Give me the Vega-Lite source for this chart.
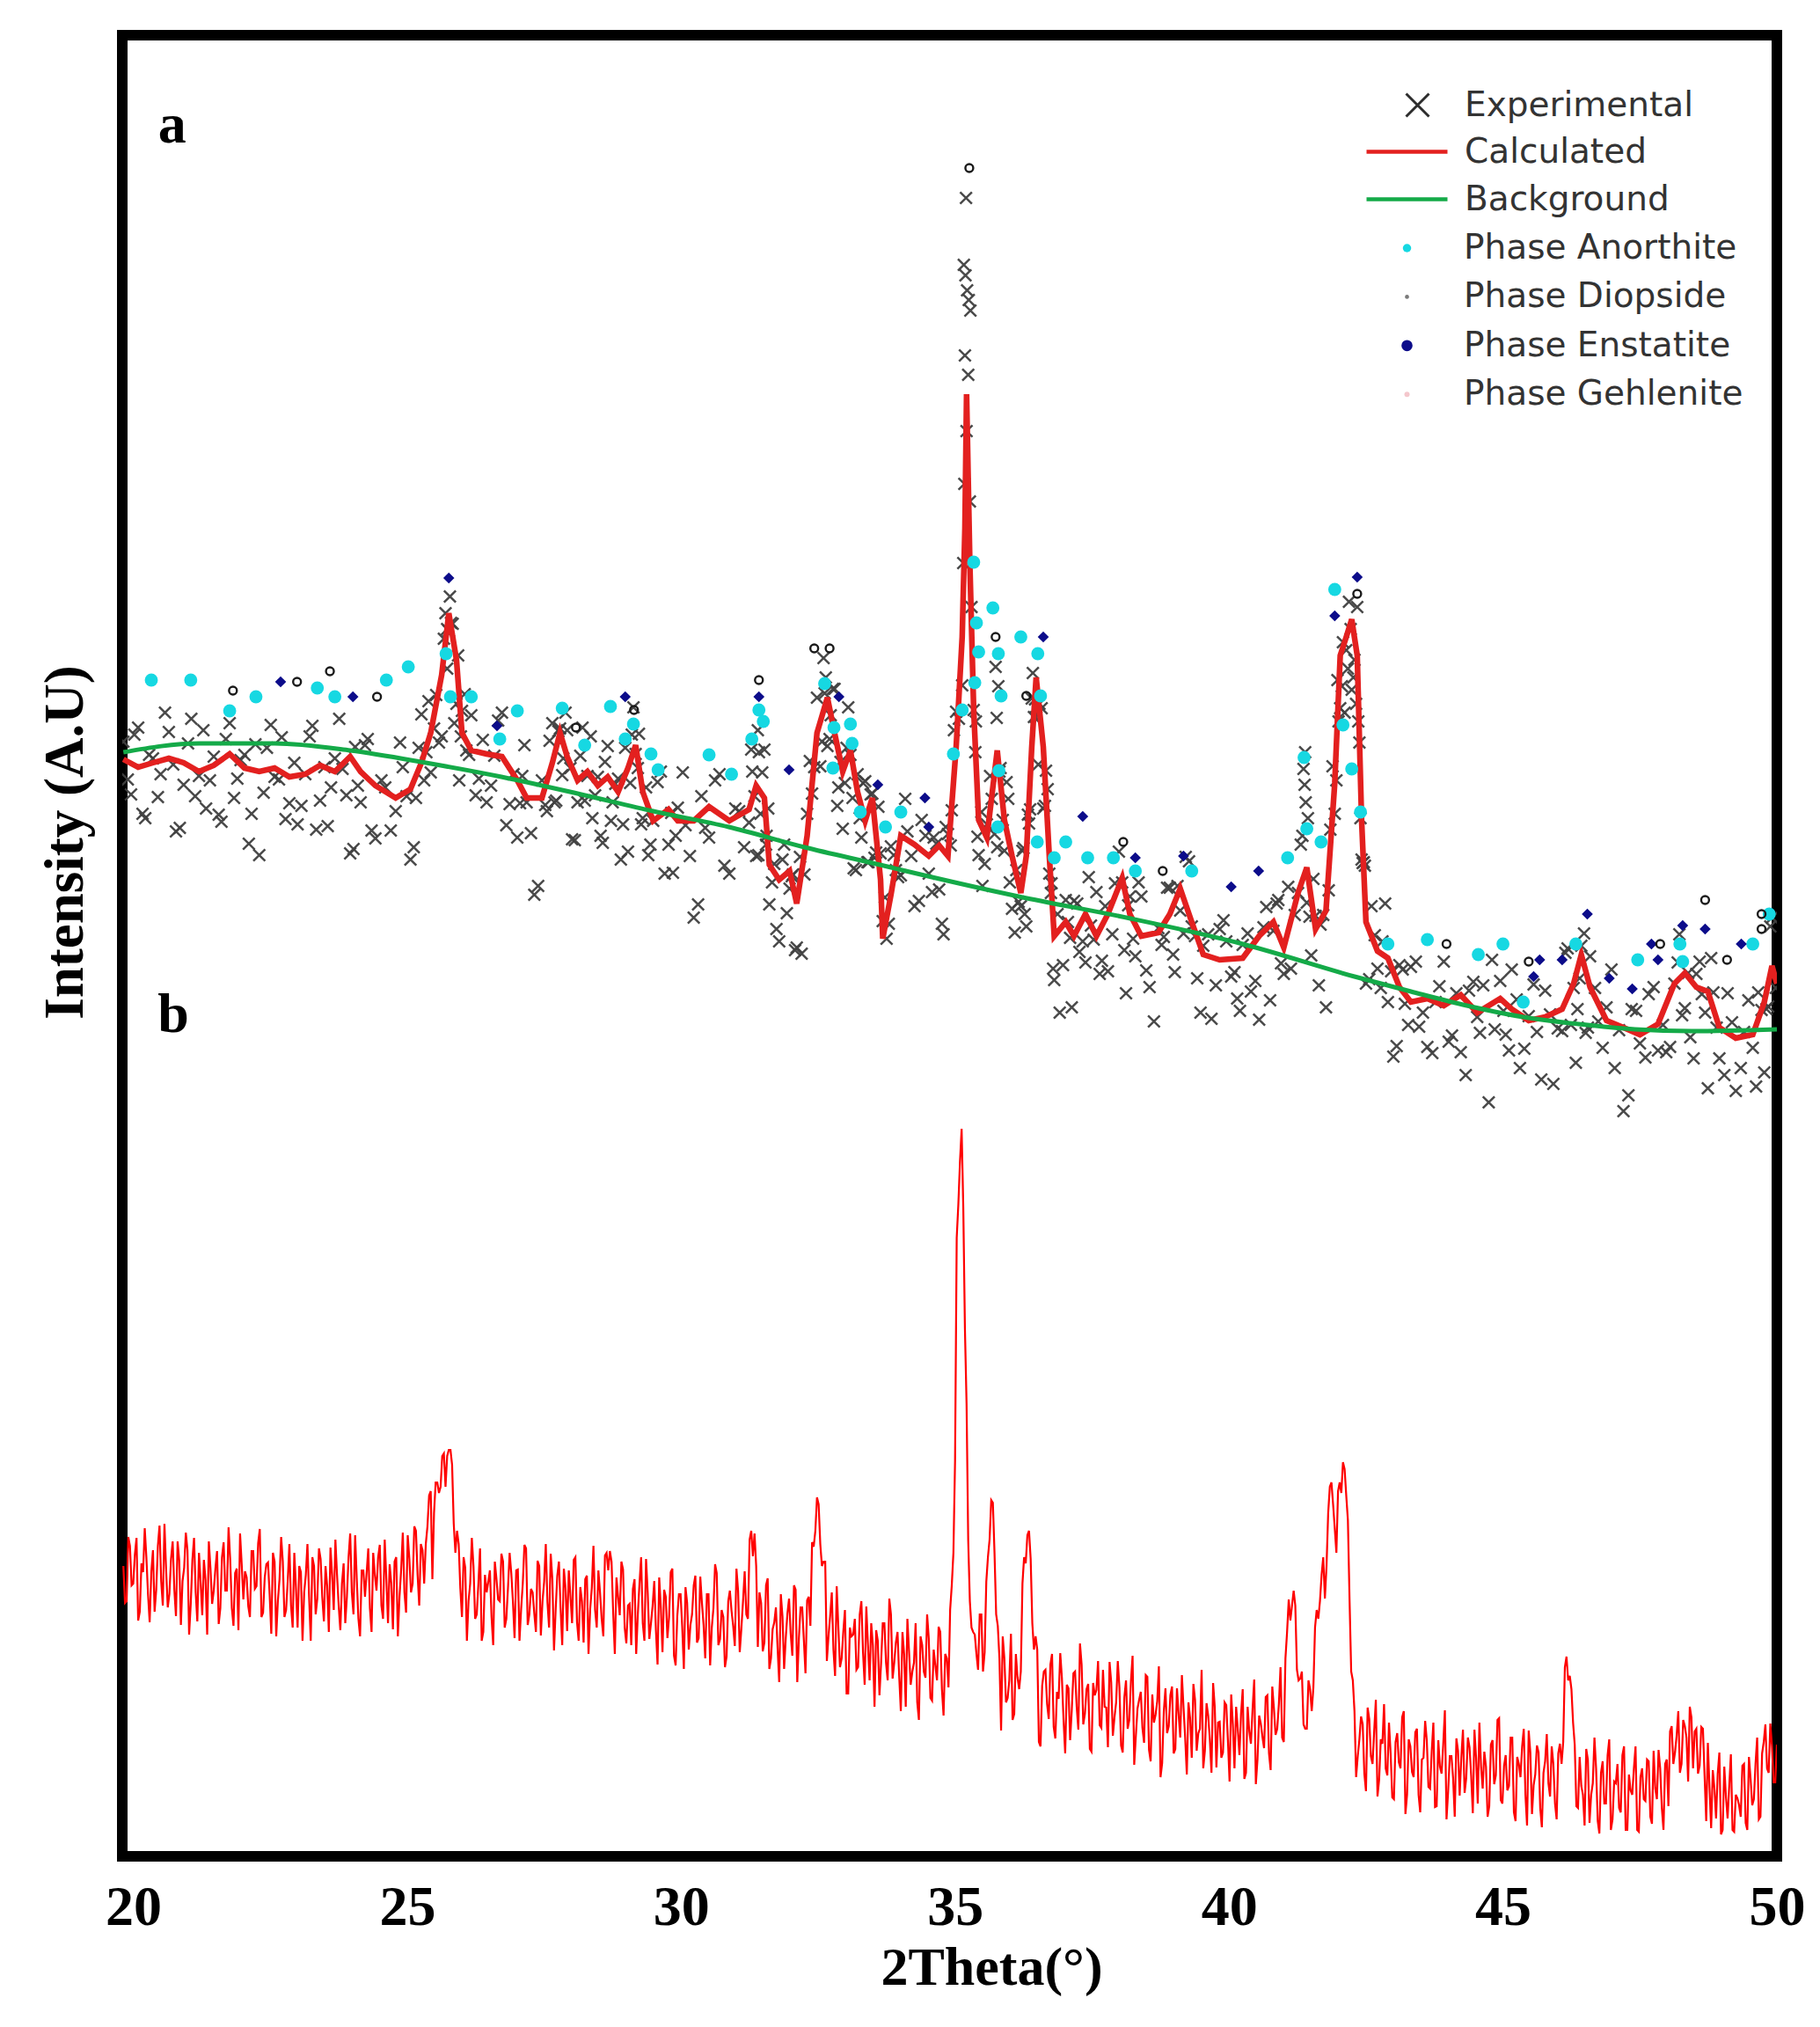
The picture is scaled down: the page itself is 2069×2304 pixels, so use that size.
{
  "$schema": "https://vega.github.io/schema/vega-lite/v6.json",
  "width": 1881,
  "height": 2070,
  "autosize": {"type": "none"},
  "padding": {"left": 139, "top": 40, "right": 49, "bottom": 194},
  "background": "white",
  "config": {
    "view": {"stroke": "#000000", "strokeWidth": 12},
    "legend": {
      "padding": 0,
      "labelFont": "DejaVu Sans",
      "labelFontSize": 39,
      "labelColor": "#333333",
      "labelLimit": 600
    }
  },
  "datasets": {
    "experimental": [
      {"angle":19.82,"counts":1267},{"angle":19.96,"counts":1207},{"angle":20.09,"counts":1283},{"angle":20.22,"counts":1180},{"angle":20.36,"counts":1248},{"angle":20.5,"counts":1230},{"angle":20.65,"counts":1278},{"angle":20.78,"counts":1165},{"angle":20.92,"counts":1218},{"angle":21.06,"counts":1293},{"angle":21.2,"counts":1228},{"angle":21.33,"counts":1191},{"angle":21.47,"counts":1250},{"angle":21.61,"counts":1176},{"angle":21.76,"counts":1288},{"angle":21.9,"counts":1225},{"angle":22.03,"counts":1252},{"angle":22.16,"counts":1185},{"angle":22.3,"counts":1138},{"angle":22.44,"counts":1260},{"angle":22.58,"counts":1227},{"angle":22.71,"counts":1272},{"angle":22.85,"counts":1197},{"angle":23.0,"counts":1173},{"angle":23.14,"counts":1230},{"angle":23.27,"counts":1285},{"angle":23.41,"counts":1200},{"angle":23.55,"counts":1171},{"angle":23.68,"counts":1248},{"angle":23.82,"counts":1236},{"angle":23.96,"counts":1140},{"angle":24.05,"counts":1261},{"angle":24.15,"counts":1198},{"angle":24.28,"counts":1270},{"angle":24.42,"counts":1157},{"angle":24.6,"counts":1215},{"angle":24.79,"counts":1188},{"angle":24.92,"counts":1238},{"angle":25.06,"counts":1133},{"angle":25.16,"counts":1203},{"angle":25.26,"counts":1298},{"angle":25.35,"counts":1255},{"angle":25.43,"counts":1232},{"angle":25.53,"counts":1320},{"angle":25.63,"counts":1273},{"angle":25.7,"counts":1413},{"angle":25.73,"counts":1395},{"angle":25.76,"counts":1393},{"angle":25.78,"counts":1432},{"angle":25.83,"counts":1401},{"angle":25.9,"counts":1310},{"angle":25.95,"counts":1223},{"angle":26.0,"counts":1302},{"angle":26.08,"counts":1257},{"angle":26.17,"counts":1297},{"angle":26.31,"counts":1225},{"angle":26.45,"counts":1198},{"angle":26.59,"counts":1251},{"angle":26.73,"counts":1300},{"angle":26.87,"counts":1196},{"angle":27.01,"counts":1158},{"angle":27.1,"counts":1228},{"angle":27.18,"counts":1198},{"angle":27.32,"counts":1093},{"angle":27.46,"counts":1223},{"angle":27.55,"counts":1188},{"angle":27.65,"counts":1288},{"angle":27.72,"counts":1200},{"angle":27.79,"counts":1282},{"angle":27.85,"counts":1248},{"angle":27.92,"counts":1280},{"angle":28.01,"counts":1156},{"angle":28.11,"counts":1198},{"angle":28.2,"counts":1283},{"angle":28.29,"counts":1228},{"angle":28.38,"counts":1180},{"angle":28.48,"counts":1227},{"angle":28.57,"counts":1152},{"angle":28.66,"counts":1262},{"angle":28.75,"counts":1198},{"angle":28.85,"counts":1225},{"angle":28.94,"counts":1173},{"angle":29.03,"counts":1142},{"angle":29.1,"counts":1275},{"angle":29.17,"counts":1253},{"angle":29.23,"counts":1276},{"angle":29.3,"counts":1180},{"angle":29.4,"counts":1138},{"angle":29.49,"counts":1177},{"angle":29.63,"counts":1233},{"angle":29.77,"counts":1150},{"angle":29.85,"counts":1118},{"angle":29.94,"counts":1192},{"angle":30.08,"counts":1172},{"angle":30.23,"counts":1067},{"angle":30.37,"counts":1205},{"angle":30.51,"counts":1158},{"angle":30.7,"counts":1230},{"angle":30.88,"counts":1117},{"angle":31.06,"counts":1188},{"angle":31.24,"counts":1175},{"angle":31.3,"counts":1233},{"angle":31.37,"counts":1137},{"angle":31.4,"counts":1280},{"angle":31.42,"counts":1255},{"angle":31.45,"counts":1185},{"angle":31.52,"counts":1258},{"angle":31.56,"counts":1160},{"angle":31.61,"counts":1082},{"angle":31.7,"counts":1128},{"angle":31.79,"counts":1040},{"angle":31.88,"counts":1150},{"angle":31.98,"counts":1100},{"angle":32.04,"counts":1116},{"angle":32.11,"counts":1033},{"angle":32.2,"counts":1026},{"angle":32.3,"counts":1185},{"angle":32.39,"counts":1208},{"angle":32.48,"counts":1317},{"angle":32.57,"counts":1267},{"angle":32.6,"counts":1362},{"angle":32.64,"counts":1340},{"angle":32.67,"counts":1262},{"angle":32.73,"counts":1297},{"angle":32.8,"counts":1327},{"angle":32.87,"counts":1215},{"angle":32.95,"counts":1168},{"angle":33.02,"counts":1260},{"angle":33.09,"counts":1252},{"angle":33.15,"counts":1123},{"angle":33.22,"counts":1230},{"angle":33.29,"counts":1158},{"angle":33.36,"counts":1222},{"angle":33.42,"counts":1130},{"angle":33.49,"counts":1208},{"angle":33.56,"counts":1141},{"angle":33.64,"counts":1140},{"angle":33.68,"counts":1063},{"angle":33.75,"counts":1043},{"angle":33.83,"counts":1148},{"angle":33.92,"counts":1121},{"angle":34.01,"counts":1115},{"angle":34.13,"counts":1165},{"angle":34.26,"counts":1080},{"angle":34.39,"counts":1178},{"angle":34.52,"counts":1117},{"angle":34.61,"counts":1158},{"angle":34.71,"counts":1099},{"angle":34.79,"counts":1048},{"angle":34.87,"counts":1162},{"angle":34.94,"counts":1189},{"angle":35.02,"counts":1301},{"angle":35.07,"counts":1293},{"angle":35.13,"counts":1331},{"angle":35.15,"counts":1470},{"angle":35.17,"counts":1560},{"angle":35.18,"counts":1706},{"angle":35.16,"counts":1809},{"angle":35.19,"counts":1797},{"angle":35.2,"counts":1885},{"angle":35.21,"counts":1620},{"angle":35.22,"counts":1780},{"angle":35.24,"counts":1684},{"angle":35.25,"counts":1769},{"angle":35.27,"counts":1540},{"angle":35.28,"counts":1757},{"angle":35.3,"counts":1420},{"angle":35.34,"counts":1303},{"angle":35.38,"counts":1290},{"angle":35.43,"counts":1138},{"angle":35.5,"counts":1103},{"angle":35.58,"counts":1173},{"angle":35.67,"counts":1202},{"angle":35.74,"counts":1352},{"angle":35.76,"counts":1294},{"angle":35.77,"counts":1147},{"angle":35.79,"counts":1330},{"angle":35.83,"counts":1237},{"angle":35.9,"counts":1143},{"angle":35.97,"counts":1202},{"angle":36.04,"counts":1077},{"angle":36.12,"counts":1121},{"angle":36.2,"counts":1080},{"angle":36.25,"counts":1146},{"angle":36.3,"counts":1057},{"angle":36.35,"counts":1174},{"angle":36.4,"counts":1316},{"angle":36.44,"counts":1295},{"angle":36.48,"counts":1295},{"angle":36.54,"counts":1310},{"angle":36.61,"counts":1191},{"angle":36.66,"counts":1234},{"angle":36.72,"counts":1117},{"angle":36.76,"counts":1106},{"angle":36.81,"counts":996},{"angle":36.91,"counts":959},{"angle":37.02,"counts":1087},{"angle":37.1,"counts":1044},{"angle":37.17,"counts":1086},{"angle":37.27,"counts":1028},{"angle":37.38,"counts":1016},{"angle":37.48,"counts":1058},{"angle":37.58,"counts":1096},{"angle":37.68,"counts":1018},{"angle":37.79,"counts":1006},{"angle":37.92,"counts":1106},{"angle":38.05,"counts":1107},{"angle":38.12,"counts":981},{"angle":38.19,"counts":1091},{"angle":38.29,"counts":1023},{"angle":38.4,"counts":1091},{"angle":38.55,"counts":988},{"angle":38.71,"counts":1055},{"angle":38.81,"counts":1045},{"angle":38.92,"counts":1101},{"angle":39.01,"counts":1005},{"angle":39.11,"counts":1075},{"angle":39.21,"counts":1136},{"angle":39.32,"counts":1057},{"angle":39.42,"counts":998},{"angle":39.53,"counts":1035},{"angle":39.68,"counts":952},{"angle":39.83,"counts":1054},{"angle":39.95,"counts":1040},{"angle":40.04,"counts":1000},{"angle":40.15,"counts":975},{"angle":40.25,"counts":1036},{"angle":40.4,"counts":983},{"angle":40.55,"counts":951},{"angle":40.68,"counts":1079},{"angle":40.81,"counts":1052},{"angle":40.9,"counts":1087},{"angle":41.0,"counts":1003},{"angle":41.13,"counts":1009},{"angle":41.26,"counts":1095},{"angle":41.34,"counts":1160},{"angle":41.36,"counts":1236},{"angle":41.38,"counts":1218},{"angle":41.4,"counts":1198},{"angle":41.42,"counts":1084},{"angle":41.44,"counts":1180},{"angle":41.5,"counts":1024},{"angle":41.58,"counts":1069},{"angle":41.67,"counts":1059},{"angle":41.77,"counts":965},{"angle":41.85,"counts":1167},{"angle":41.93,"counts":1185},{"angle":41.98,"counts":1337},{"angle":42.03,"counts":1305},{"angle":42.08,"counts":1380},{"angle":42.14,"counts":1371},{"angle":42.19,"counts":1426},{"angle":42.24,"counts":1326},{"angle":42.29,"counts":1360},{"angle":42.34,"counts":1420},{"angle":42.38,"counts":1266},{"angle":42.42,"counts":1133},{"angle":42.46,"counts":1130},{"angle":42.5,"counts":992},{"angle":42.6,"counts":1080},{"angle":42.71,"counts":1009},{"angle":42.8,"counts":1040},{"angle":42.9,"counts":971},{"angle":43.0,"counts":909},{"angle":43.11,"counts":1013},{"angle":43.21,"counts":969},{"angle":43.32,"counts":1011},{"angle":43.47,"counts":943},{"angle":43.62,"counts":920},{"angle":43.77,"counts":971},{"angle":43.92,"counts":1017},{"angle":44.07,"counts":933},{"angle":44.23,"counts":914},{"angle":44.38,"counts":984},{"angle":44.53,"counts":954},{"angle":44.64,"counts":990},{"angle":44.74,"counts":857},{"angle":44.85,"counts":940},{"angle":44.95,"counts":995},{"angle":45.05,"counts":934},{"angle":45.16,"counts":1008},{"angle":45.31,"counts":896},{"angle":45.47,"counts":955},{"angle":45.62,"counts":937},{"angle":45.77,"counts":984},{"angle":45.92,"counts":878},{"angle":46.08,"counts":938},{"angle":46.18,"counts":1032},{"angle":46.29,"counts":987},{"angle":46.36,"counts":963},{"angle":46.43,"counts":1035},{"angle":46.51,"counts":936},{"angle":46.59,"counts":1023},{"angle":46.74,"counts":949},{"angle":46.89,"counts":965},{"angle":47.04,"counts":896},{"angle":47.2,"counts":847},{"angle":47.35,"counts":963},{"angle":47.5,"counts":924},{"angle":47.66,"counts":980},{"angle":47.83,"counts":916},{"angle":47.98,"counts":914},{"angle":48.13,"counts":992},{"angle":48.22,"counts":1048},{"angle":48.32,"counts":964},{"angle":48.42,"counts":931},{"angle":48.53,"counts":1003},{"angle":48.63,"counts":980},{"angle":48.74,"counts":873},{"angle":48.84,"counts":982},{"angle":48.95,"counts":907},{"angle":49.1,"counts":981},{"angle":49.25,"counts":870},{"angle":49.4,"counts":937},{"angle":49.56,"counts":919},{"angle":49.66,"counts":982},{"angle":49.77,"counts":891},{"angle":49.84,"counts":966},{"angle":49.91,"counts":1067},{"angle":49.98,"counts":987},
      {"angle":19.9,"counts":1224},{"angle":20.02,"counts":1275},{"angle":20.17,"counts":1185},{"angle":20.29,"counts":1252},{"angle":20.45,"counts":1204},{"angle":20.58,"counts":1300},{"angle":20.73,"counts":1241},{"angle":20.85,"counts":1169},{"angle":21.0,"counts":1265},{"angle":21.13,"counts":1205},{"angle":21.28,"counts":1280},{"angle":21.4,"counts":1223},{"angle":21.56,"counts":1184},{"angle":21.69,"counts":1270},{"angle":21.84,"counts":1203},{"angle":21.96,"counts":1246},{"angle":22.11,"counts":1151},{"angle":22.23,"counts":1264},{"angle":22.38,"counts":1209},{"angle":22.51,"counts":1286},{"angle":22.66,"counts":1224},{"angle":22.78,"counts":1179},{"angle":22.94,"counts":1243},{"angle":23.07,"counts":1194},{"angle":23.22,"counts":1273},{"angle":23.34,"counts":1167},{"angle":23.49,"counts":1238},{"angle":23.61,"counts":1215},{"angle":23.76,"counts":1293},{"angle":23.89,"counts":1206},{"angle":24.02,"counts":1145},{"angle":24.1,"counts":1217},{"angle":24.23,"counts":1263},{"angle":24.35,"counts":1166},{"angle":24.53,"counts":1223},{"angle":24.7,"counts":1166},{"angle":24.87,"counts":1266},{"angle":24.99,"counts":1205},{"angle":25.12,"counts":1147},{"angle":25.21,"counts":1260},{"angle":25.31,"counts":1223},{"angle":25.39,"counts":1313},{"angle":25.49,"counts":1282},{"angle":25.58,"counts":1266},{"angle":25.67,"counts":1384},{"angle":25.73,"counts":1350},{"angle":25.8,"counts":1402},{"angle":25.86,"counts":1288},{"angle":25.93,"counts":1365},{"angle":25.98,"counts":1273},{"angle":26.05,"counts":1321},{"angle":26.13,"counts":1252},{"angle":26.25,"counts":1206},{"angle":26.38,"counts":1269},{"angle":26.53,"counts":1217},{"angle":26.66,"counts":1291},{"angle":26.81,"counts":1172},{"angle":26.94,"counts":1230},{"angle":27.06,"counts":1197},{"angle":27.14,"counts":1263},{"angle":27.26,"counts":1163},{"angle":27.39,"counts":1103},{"angle":27.52,"counts":1195},{"angle":27.6,"counts":1268},{"angle":27.69,"counts":1198},{"angle":27.76,"counts":1279},{"angle":27.83,"counts":1229},{"angle":27.89,"counts":1300},{"angle":27.98,"counts":1237},{"angle":28.06,"counts":1155},{"angle":28.16,"counts":1251},{"angle":28.24,"counts":1200},{"angle":28.35,"counts":1273},{"angle":28.43,"counts":1206},{"angle":28.53,"counts":1160},{"angle":28.61,"counts":1244},{"angle":28.72,"counts":1177},{"angle":28.8,"counts":1219},{"angle":28.9,"counts":1133},{"angle":28.98,"counts":1260},{"angle":29.07,"counts":1220},{"angle":29.13,"counts":1306},{"angle":29.21,"counts":1237},{"angle":29.27,"counts":1173},{"angle":29.36,"counts":1215},{"angle":29.44,"counts":1150},{"angle":29.57,"counts":1221},{"angle":29.7,"counts":1117},{"angle":29.82,"counts":1186},{"angle":29.9,"counts":1160},{"angle":30.03,"counts":1232},{"angle":30.16,"counts":1137},{"angle":30.31,"counts":1082},{"angle":30.44,"counts":1169},{"angle":30.62,"counts":1223},{"angle":30.79,"counts":1126},{"angle":30.99,"counts":1191},{"angle":31.15,"counts":1147},{"angle":31.28,"counts":1258},{"angle":31.34,"counts":1205},{"angle":31.41,"counts":1138},{"angle":31.48,"counts":1232},{"angle":31.55,"counts":1150},{"angle":31.59,"counts":1191},{"angle":31.66,"counts":1107},{"angle":31.74,"counts":1054},{"angle":31.85,"counts":1133},{"angle":31.93,"counts":1072},{"angle":32.02,"counts":1114},{"angle":32.08,"counts":1030},{"angle":32.17,"counts":1136},{"angle":32.25,"counts":1116},{"angle":32.35,"counts":1245},{"angle":32.43,"counts":1238},{"angle":32.54,"counts":1239},{"angle":32.62,"counts":1322},{"angle":32.71,"counts":1270},{"angle":32.77,"counts":1327},{"angle":32.85,"counts":1194},{"angle":32.91,"counts":1244},{"angle":32.99,"counts":1220},{"angle":33.05,"counts":1306},{"angle":33.13,"counts":1203},{"angle":33.19,"counts":1121},{"angle":33.26,"counts":1180},{"angle":33.32,"counts":1220},{"angle":33.4,"counts":1130},{"angle":33.46,"counts":1207},{"angle":33.53,"counts":1135},{"angle":33.6,"counts":1193},{"angle":33.72,"counts":1090},{"angle":33.79,"counts":1060},{"angle":33.88,"counts":1138},{"angle":33.96,"counts":1113},{"angle":34.09,"counts":1202},{"angle":34.2,"counts":1137},{"angle":34.34,"counts":1086},{"angle":34.46,"counts":1160},{"angle":34.58,"counts":1096},{"angle":34.66,"counts":1151},{"angle":34.76,"counts":1060},{"angle":34.83,"counts":1170},{"angle":34.92,"counts":1149},{"angle":34.98,"counts":1280},{"angle":35.37,"counts":1255},{"angle":35.41,"counts":1159},{"angle":35.48,"counts":1187},{"angle":35.54,"counts":1128},{"angle":35.64,"counts":1228},{"angle":35.72,"counts":1162},{"angle":35.81,"counts":1233},{"angle":35.87,"counts":1178},{"angle":35.94,"counts":1221},{"angle":36.0,"counts":1107},{"angle":36.09,"counts":1050},{"angle":36.16,"counts":1085},{"angle":36.23,"counts":1143},{"angle":36.27,"counts":1071},{"angle":36.33,"counts":1184},{"angle":36.37,"counts":1190},{"angle":36.42,"counts":1345},{"angle":36.46,"counts":1315},{"angle":36.52,"counts":1241},{"angle":36.58,"counts":1305},{"angle":36.64,"counts":1194},{"angle":36.69,"counts":1213},{"angle":36.75,"counts":1095},{"angle":36.79,"counts":1009},{"angle":36.87,"counts":1071},{"angle":36.97,"counts":1013},{"angle":37.06,"counts":1062},{"angle":37.13,"counts":965},{"angle":37.23,"counts":1083},{"angle":37.33,"counts":1040},{"angle":37.44,"counts":1113},{"angle":37.53,"counts":1042},{"angle":37.64,"counts":1003},{"angle":37.74,"counts":1080},{"angle":37.87,"counts":1048},{"angle":37.99,"counts":1142},{"angle":38.09,"counts":1030},{"angle":38.16,"counts":1081},{"angle":38.25,"counts":1043},{"angle":38.35,"counts":1107},{"angle":38.49,"counts":1007},{"angle":38.63,"counts":949},{"angle":38.77,"counts":1036},{"angle":38.87,"counts":1101},{"angle":38.98,"counts":1025},{"angle":39.06,"counts":1103},{"angle":39.17,"counts":1049},{"angle":39.27,"counts":1131},{"angle":39.38,"counts":1046},{"angle":39.48,"counts":959},{"angle":39.62,"counts":1048},{"angle":39.76,"counts":990},{"angle":39.9,"counts":1064},{"angle":40.1,"counts":1005},{"angle":40.2,"counts":961},{"angle":40.34,"counts":1049},{"angle":40.48,"counts":995},{"angle":40.63,"counts":1056},{"angle":40.75,"counts":973},{"angle":40.87,"counts":1083},{"angle":40.95,"counts":1015},{"angle":41.08,"counts":1102},{"angle":41.2,"counts":1070},{"angle":41.31,"counts":1150},{"angle":41.39,"counts":1255},{"angle":41.47,"counts":1068},{"angle":41.54,"counts":1111},{"angle":41.64,"counts":990},{"angle":41.72,"counts":1070},{"angle":41.82,"counts":1098},{"angle":41.89,"counts":1239},{"angle":41.96,"counts":1223},{"angle":42.0,"counts":1290},{"angle":42.06,"counts":1330},{"angle":42.11,"counts":1300},{"angle":42.17,"counts":1350},{"angle":42.22,"counts":1395},{"angle":42.27,"counts":1340},{"angle":42.32,"counts":1310},{"angle":42.36,"counts":1290},{"angle":42.4,"counts":1180},{"angle":42.44,"counts":1129},{"angle":42.48,"counts":1126},{"angle":42.56,"counts":997},{"angle":42.66,"counts":1047},{"angle":42.77,"counts":987},{"angle":42.85,"counts":1083},{"angle":42.96,"counts":1006},{"angle":43.06,"counts":921},{"angle":43.17,"counts":1008},{"angle":43.27,"counts":945},{"angle":43.41,"counts":1017},{"angle":43.54,"counts":959},{"angle":43.71,"counts":913},{"angle":43.84,"counts":989},{"angle":44.01,"counts":926},{"angle":44.15,"counts":981},{"angle":44.32,"counts":888},{"angle":44.46,"counts":994},{"angle":44.58,"counts":936},{"angle":44.8,"counts":1019},{"angle":45.01,"counts":961},{"angle":45.11,"counts":916},{"angle":45.25,"counts":974},{"angle":45.39,"counts":918},{"angle":45.56,"counts":991},{"angle":45.7,"counts":883},{"angle":45.86,"counts":957},{"angle":46.0,"counts":941},{"angle":46.14,"counts":1027},{"angle":46.24,"counts":945},{"angle":46.33,"counts":902},{"angle":46.4,"counts":998},{"angle":46.48,"counts":1049},{"angle":46.55,"counts":942},{"angle":46.68,"counts":987},{"angle":46.82,"counts":919},{"angle":46.98,"counts":1008},{"angle":47.12,"counts":939},{"angle":47.29,"counts":865},{"angle":47.43,"counts":961},{"angle":47.6,"counts":908},{"angle":47.75,"counts":988},{"angle":47.92,"counts":945},{"angle":48.05,"counts":920},{"angle":48.19,"counts":1016},{"angle":48.27,"counts":956},{"angle":48.38,"counts":1004},{"angle":48.48,"counts":907},{"angle":48.59,"counts":1017},{"angle":48.69,"counts":959},{"angle":48.8,"counts":1021},{"angle":48.9,"counts":942},{"angle":49.04,"counts":888},{"angle":49.18,"counts":948},{"angle":49.34,"counts":896},{"angle":49.48,"counts":973},{"angle":49.62,"counts":875},{"angle":49.72,"counts":962},{"angle":49.81,"counts":963},{"angle":49.88,"counts":1057}
    ],
    "calculated": [
      {"angle":19.82,"counts":1247},{"angle":20.09,"counts":1238},{"angle":20.36,"counts":1243},{"angle":20.65,"counts":1248},{"angle":20.92,"counts":1243},{"angle":21.2,"counts":1233},{"angle":21.47,"counts":1240},{"angle":21.76,"counts":1253},{"angle":22.03,"counts":1237},{"angle":22.3,"counts":1233},{"angle":22.58,"counts":1237},{"angle":22.85,"counts":1227},{"angle":23.14,"counts":1230},{"angle":23.41,"counts":1240},{"angle":23.68,"counts":1233},{"angle":23.96,"counts":1250},{"angle":24.15,"counts":1233},{"angle":24.42,"counts":1217},{"angle":24.79,"counts":1203},{"angle":25.06,"counts":1213},{"angle":25.26,"counts":1243},{"angle":25.43,"counts":1277},{"angle":25.63,"counts":1343},{"angle":25.76,"counts":1413},{"angle":25.9,"counts":1360},{"angle":26.0,"counts":1277},{"angle":26.17,"counts":1257},{"angle":26.45,"counts":1253},{"angle":26.73,"counts":1250},{"angle":27.01,"counts":1223},{"angle":27.18,"counts":1203},{"angle":27.46,"counts":1203},{"angle":27.65,"counts":1243},{"angle":27.79,"counts":1277},{"angle":27.92,"counts":1250},{"angle":28.11,"counts":1223},{"angle":28.29,"counts":1233},{"angle":28.48,"counts":1217},{"angle":28.66,"counts":1227},{"angle":28.85,"counts":1210},{"angle":29.03,"counts":1237},{"angle":29.17,"counts":1263},{"angle":29.3,"counts":1210},{"angle":29.49,"counts":1177},{"angle":29.77,"counts":1190},{"angle":29.94,"counts":1177},{"angle":30.23,"counts":1177},{"angle":30.51,"counts":1193},{"angle":30.88,"counts":1177},{"angle":31.24,"counts":1190},{"angle":31.37,"counts":1217},{"angle":31.52,"counts":1203},{"angle":31.61,"counts":1127},{"angle":31.79,"counts":1110},{"angle":31.98,"counts":1120},{"angle":32.11,"counts":1083},{"angle":32.3,"counts":1160},{"angle":32.48,"counts":1277},{"angle":32.67,"counts":1317},{"angle":32.8,"counts":1277},{"angle":32.95,"counts":1233},{"angle":33.09,"counts":1257},{"angle":33.22,"counts":1210},{"angle":33.36,"counts":1177},{"angle":33.49,"counts":1203},{"angle":33.64,"counts":1110},{"angle":33.68,"counts":1043},{"angle":33.83,"counts":1093},{"angle":34.01,"counts":1160},{"angle":34.26,"counts":1150},{"angle":34.52,"counts":1137},{"angle":34.71,"counts":1149},{"angle":34.87,"counts":1137},{"angle":35.02,"counts":1261},{"angle":35.13,"counts":1386},{"angle":35.18,"counts":1510},{"angle":35.21,"counts":1662},{"angle":35.27,"counts":1469},{"angle":35.34,"counts":1303},{"angle":35.43,"counts":1178},{"angle":35.58,"counts":1158},{"angle":35.77,"counts":1257},{"angle":35.9,"counts":1178},{"angle":36.04,"counts":1137},{"angle":36.2,"counts":1095},{"angle":36.3,"counts":1137},{"angle":36.4,"counts":1261},{"angle":36.48,"counts":1340},{"angle":36.61,"counts":1261},{"angle":36.72,"counts":1137},{"angle":36.81,"counts":1046},{"angle":37.02,"counts":1062},{"angle":37.17,"counts":1046},{"angle":37.38,"counts":1071},{"angle":37.58,"counts":1046},{"angle":37.79,"counts":1071},{"angle":38.05,"counts":1112},{"angle":38.19,"counts":1071},{"angle":38.4,"counts":1046},{"angle":38.71,"counts":1050},{"angle":38.92,"counts":1071},{"angle":39.11,"counts":1100},{"angle":39.32,"counts":1062},{"angle":39.53,"counts":1025},{"angle":39.83,"counts":1019},{"angle":40.25,"counts":1021},{"angle":40.55,"counts":1046},{"angle":40.81,"counts":1062},{"angle":41.0,"counts":1033},{"angle":41.26,"counts":1095},{"angle":41.42,"counts":1124},{"angle":41.58,"counts":1054},{"angle":41.77,"counts":1075},{"angle":41.93,"counts":1220},{"angle":42.03,"counts":1365},{"angle":42.14,"counts":1386},{"angle":42.24,"counts":1406},{"angle":42.34,"counts":1365},{"angle":42.42,"counts":1178},{"angle":42.5,"counts":1062},{"angle":42.71,"counts":1029},{"angle":42.9,"counts":1021},{"angle":43.11,"counts":988},{"angle":43.32,"counts":971},{"angle":43.62,"counts":975},{"angle":43.92,"counts":967},{"angle":44.23,"counts":979},{"angle":44.53,"counts":959},{"angle":44.95,"counts":975},{"angle":45.16,"counts":963},{"angle":45.47,"counts":950},{"angle":45.77,"counts":954},{"angle":46.08,"counts":963},{"angle":46.29,"counts":992},{"angle":46.43,"counts":1025},{"angle":46.59,"counts":988},{"angle":46.89,"counts":950},{"angle":47.2,"counts":942},{"angle":47.5,"counts":934},{"angle":47.83,"counts":946},{"angle":48.13,"counts":992},{"angle":48.32,"counts":1004},{"angle":48.53,"counts":988},{"angle":48.74,"counts":983},{"angle":48.95,"counts":942},{"angle":49.25,"counts":930},{"angle":49.56,"counts":934},{"angle":49.77,"counts":971},{"angle":49.91,"counts":1012},{"angle":50.0,"counts":992}
    ],
    "background": [
      {"angle":19.82,"counts":1255},{"angle":21.2,"counts":1265},{"angle":22.58,"counts":1265},{"angle":23.96,"counts":1257},{"angle":25.34,"counts":1243},{"angle":26.72,"counts":1227},{"angle":28.11,"counts":1208},{"angle":29.49,"counts":1188},{"angle":30.87,"counts":1170},{"angle":32.25,"counts":1147},{"angle":33.63,"counts":1127},{"angle":34.1,"counts":1120},{"angle":36.16,"counts":1091},{"angle":38.2,"counts":1066},{"angle":40.25,"counts":1037},{"angle":42.29,"counts":1000},{"angle":43.32,"counts":983},{"angle":44.34,"counts":967},{"angle":45.37,"counts":954},{"angle":46.38,"counts":946},{"angle":47.41,"counts":940},{"angle":48.44,"counts":938},{"angle":50.0,"counts":940}
    ],
    "anorthite": [
      {"angle":20.33,"counts":1337},{"angle":21.05,"counts":1337},{"angle":21.76,"counts":1302},{"angle":22.24,"counts":1318},{"angle":23.36,"counts":1328},{"angle":23.68,"counts":1318},{"angle":24.62,"counts":1337},{"angle":25.02,"counts":1352},{"angle":25.71,"counts":1367},{"angle":25.79,"counts":1318},{"angle":26.17,"counts":1318},{"angle":26.69,"counts":1270},{"angle":27.01,"counts":1302},{"angle":27.83,"counts":1305},{"angle":28.24,"counts":1263},{"angle":28.71,"counts":1307},{"angle":28.98,"counts":1270},{"angle":29.13,"counts":1287},{"angle":29.45,"counts":1253},{"angle":29.58,"counts":1235},{"angle":30.51,"counts":1252},{"angle":30.92,"counts":1230},{"angle":31.29,"counts":1270},{"angle":31.42,"counts":1303},{"angle":31.5,"counts":1290},{"angle":32.62,"counts":1333},{"angle":32.79,"counts":1283},{"angle":33.09,"counts":1287},{"angle":33.12,"counts":1265},{"angle":32.77,"counts":1237},{"angle":33.27,"counts":1187},{"angle":33.73,"counts":1170},{"angle":34.01,"counts":1187},{"angle":34.97,"counts":1253},{"angle":35.34,"counts":1471},{"angle":35.39,"counts":1402},{"angle":35.43,"counts":1369},{"angle":35.36,"counts":1334},{"angle":35.13,"counts":1303},{"angle":35.69,"counts":1419},{"angle":35.79,"counts":1367},{"angle":35.84,"counts":1319},{"angle":35.8,"counts":1234},{"angle":35.78,"counts":1170},{"angle":36.2,"counts":1386},{"angle":36.51,"counts":1367},{"angle":36.56,"counts":1319},{"angle":36.5,"counts":1153},{"angle":36.81,"counts":1135},{"angle":37.02,"counts":1153},{"angle":37.42,"counts":1135},{"angle":37.89,"counts":1135},{"angle":38.29,"counts":1120},{"angle":39.32,"counts":1120},{"angle":41.07,"counts":1135},{"angle":41.37,"counts":1249},{"angle":41.42,"counts":1168},{"angle":41.68,"counts":1153},{"angle":41.93,"counts":1440},{"angle":42.08,"counts":1286},{"angle":42.24,"counts":1236},{"angle":42.4,"counts":1187},{"angle":42.9,"counts":1037},{"angle":43.62,"counts":1042},{"angle":44.55,"counts":1025},{"angle":45.0,"counts":1037},{"angle":45.37,"counts":971},{"angle":46.33,"counts":1037},{"angle":47.46,"counts":1019},{"angle":48.23,"counts":1037},{"angle":48.28,"counts":1017},{"angle":49.56,"counts":1037},{"angle":49.86,"counts":1071}
    ],
    "diopside": [
      {"angle":21.82,"counts":1325},{"angle":22.99,"counts":1335},{"angle":23.59,"counts":1347},{"angle":24.45,"counts":1318},{"angle":28.08,"counts":1283},{"angle":29.14,"counts":1303},{"angle":31.42,"counts":1337},{"angle":32.43,"counts":1373},{"angle":32.71,"counts":1373},{"angle":35.26,"counts":1919},{"angle":35.74,"counts":1386},{"angle":36.3,"counts":1319},{"angle":38.07,"counts":1153},{"angle":38.79,"counts":1120},{"angle":42.34,"counts":1435},{"angle":43.97,"counts":1037},{"angle":45.47,"counts":1017},{"angle":47.87,"counts":1037},{"angle":48.69,"counts":1087},{"angle":49.09,"counts":1019},{"angle":49.72,"counts":1054},{"angle":49.72,"counts":1071}
    ],
    "enstatite": [
      {"angle":22.69,"counts":1335},{"angle":24.01,"counts":1318},{"angle":25.76,"counts":1453},{"angle":26.64,"counts":1285},{"angle":28.98,"counts":1318},{"angle":31.42,"counts":1318},{"angle":31.97,"counts":1235},{"angle":32.88,"counts":1318},{"angle":33.59,"counts":1218},{"angle":34.45,"counts":1203},{"angle":34.52,"counts":1170},{"angle":36.61,"counts":1386},{"angle":37.33,"counts":1182},{"angle":38.29,"counts":1135},{"angle":39.17,"counts":1137},{"angle":40.04,"counts":1102},{"angle":40.54,"counts":1120},{"angle":41.93,"counts":1410},{"angle":42.34,"counts":1454},{"angle":45.56,"counts":1000},{"angle":45.67,"counts":1019},{"angle":46.08,"counts":1019},{"angle":46.54,"counts":1071},{"angle":46.94,"counts":998},{"angle":47.36,"counts":986},{"angle":47.71,"counts":1037},{"angle":47.83,"counts":1019},{"angle":48.28,"counts":1058},{"angle":48.69,"counts":1054},{"angle":49.35,"counts":1037}
    ],
    "pattern_b": [
      {"angle":19.82,"counts":330},{"angle":19.88,"counts":290},{"angle":19.94,"counts":353},{"angle":20.0,"counts":310},{"angle":20.06,"counts":362},{"angle":20.12,"counts":278},{"angle":20.18,"counts":323},{"angle":20.24,"counts":340},{"angle":20.3,"counts":266},{"angle":20.36,"counts":348},{"angle":20.42,"counts":303},{"angle":20.48,"counts":376},{"angle":20.54,"counts":285},{"angle":20.6,"counts":326},{"angle":20.66,"counts":298},{"angle":20.72,"counts":358},{"angle":20.78,"counts":273},{"angle":20.84,"counts":336},{"angle":20.9,"counts":313},{"angle":20.96,"counts":368},{"angle":21.02,"counts":252},{"angle":21.08,"counts":337},{"angle":21.14,"counts":300},{"angle":21.2,"counts":345},{"angle":21.26,"counts":274},{"angle":21.32,"counts":314},{"angle":21.38,"counts":358},{"angle":21.44,"counts":287},{"angle":21.5,"counts":327},{"angle":21.56,"counts":264},{"angle":21.62,"counts":340},{"angle":21.68,"counts":302},{"angle":21.74,"counts":374},{"angle":21.8,"counts":282},{"angle":21.86,"counts":322},{"angle":21.92,"counts":257},{"angle":21.98,"counts":332},{"angle":22.04,"counts":324},{"angle":22.1,"counts":284},{"angle":22.16,"counts":347},{"angle":22.22,"counts":304},{"angle":22.28,"counts":356},{"angle":22.34,"counts":272},{"angle":22.4,"counts":317},{"angle":22.46,"counts":334},{"angle":22.52,"counts":253},{"angle":22.58,"counts":335},{"angle":22.64,"counts":290},{"angle":22.7,"counts":363},{"angle":22.76,"counts":272},{"angle":22.82,"counts":313},{"angle":22.88,"counts":285},{"angle":22.94,"counts":345},{"angle":23.0,"counts":260},{"angle":23.06,"counts":323},{"angle":23.12,"counts":300},{"angle":23.18,"counts":355},{"angle":23.24,"counts":245},{"angle":23.3,"counts":330},{"angle":23.36,"counts":293},{"angle":23.42,"counts":338},{"angle":23.48,"counts":267},{"angle":23.54,"counts":307},{"angle":23.6,"counts":351},{"angle":23.66,"counts":280},{"angle":23.72,"counts":320},{"angle":23.78,"counts":257},{"angle":23.84,"counts":333},{"angle":23.9,"counts":295},{"angle":23.96,"counts":367},{"angle":24.02,"counts":275},{"angle":24.08,"counts":315},{"angle":24.14,"counts":250},{"angle":24.2,"counts":325},{"angle":24.26,"counts":322},{"angle":24.32,"counts":282},{"angle":24.38,"counts":345},{"angle":24.44,"counts":302},{"angle":24.5,"counts":354},{"angle":24.56,"counts":270},{"angle":24.62,"counts":315},{"angle":24.68,"counts":332},{"angle":24.74,"counts":258},{"angle":24.8,"counts":340},{"angle":24.86,"counts":295},{"angle":24.92,"counts":368},{"angle":24.98,"counts":277},{"angle":25.04,"counts":338},{"angle":25.1,"counts":310},{"angle":25.16,"counts":370},{"angle":25.22,"counts":285},{"angle":25.28,"counts":348},{"angle":25.34,"counts":355},{"angle":25.4,"counts":410},{"angle":25.46,"counts":315},{"angle":25.52,"counts":425},{"angle":25.58,"counts":413},{"angle":25.64,"counts":455},{"angle":25.7,"counts":420},{"angle":25.76,"counts":462},{"angle":25.82,"counts":445},{"angle":25.88,"counts":345},{"angle":25.94,"counts":355},{"angle":26.0,"counts":272},{"angle":26.06,"counts":328},{"angle":26.12,"counts":290},{"angle":26.18,"counts":362},{"angle":26.24,"counts":270},{"angle":26.3,"counts":310},{"angle":26.36,"counts":245},{"angle":26.42,"counts":320},{"angle":26.48,"counts":312},{"angle":26.54,"counts":272},{"angle":26.6,"counts":335},{"angle":26.66,"counts":292},{"angle":26.72,"counts":344},{"angle":26.78,"counts":260},{"angle":26.84,"counts":305},{"angle":26.9,"counts":322},{"angle":26.96,"counts":248},{"angle":27.02,"counts":326},{"angle":27.08,"counts":281},{"angle":27.14,"counts":354},{"angle":27.2,"counts":263},{"angle":27.26,"counts":304},{"angle":27.32,"counts":276},{"angle":27.38,"counts":336},{"angle":27.44,"counts":251},{"angle":27.5,"counts":312},{"angle":27.56,"counts":289},{"angle":27.62,"counts":344},{"angle":27.68,"counts":234},{"angle":27.74,"counts":319},{"angle":27.8,"counts":282},{"angle":27.86,"counts":327},{"angle":27.92,"counts":256},{"angle":27.98,"counts":296},{"angle":28.04,"counts":337},{"angle":28.1,"counts":266},{"angle":28.16,"counts":306},{"angle":28.22,"counts":243},{"angle":28.28,"counts":319},{"angle":28.34,"counts":281},{"angle":28.4,"counts":353},{"angle":28.46,"counts":260},{"angle":28.52,"counts":300},{"angle":28.58,"counts":250},{"angle":28.64,"counts":345},{"angle":28.7,"counts":347},{"angle":28.76,"counts":277},{"angle":28.82,"counts":317},{"angle":28.88,"counts":274},{"angle":28.94,"counts":326},{"angle":29.0,"counts":242},{"angle":29.06,"counts":287},{"angle":29.12,"counts":304},{"angle":29.18,"counts":230},{"angle":29.24,"counts":310},{"angle":29.3,"counts":265},{"angle":29.36,"counts":338},{"angle":29.42,"counts":247},{"angle":29.48,"counts":285},{"angle":29.54,"counts":257},{"angle":29.6,"counts":317},{"angle":29.66,"counts":232},{"angle":29.72,"counts":295},{"angle":29.78,"counts":272},{"angle":29.84,"counts":327},{"angle":29.9,"counts":217},{"angle":29.96,"counts":298},{"angle":30.02,"counts":261},{"angle":30.08,"counts":306},{"angle":30.14,"counts":235},{"angle":30.2,"counts":275},{"angle":30.26,"counts":319},{"angle":30.32,"counts":248},{"angle":30.38,"counts":288},{"angle":30.44,"counts":225},{"angle":30.5,"counts":298},{"angle":30.56,"counts":260},{"angle":30.62,"counts":332},{"angle":30.68,"counts":240},{"angle":30.74,"counts":280},{"angle":30.8,"counts":215},{"angle":30.86,"counts":290},{"angle":30.92,"counts":279},{"angle":30.98,"counts":239},{"angle":31.04,"counts":302},{"angle":31.1,"counts":259},{"angle":31.16,"counts":324},{"angle":31.22,"counts":270},{"angle":31.28,"counts":370},{"angle":31.34,"counts":367},{"angle":31.4,"counts":238},{"angle":31.46,"counts":288},{"angle":31.52,"counts":243},{"angle":31.58,"counts":316},{"angle":31.64,"counts":225},{"angle":31.7,"counts":266},{"angle":31.76,"counts":238},{"angle":31.82,"counts":298},{"angle":31.88,"counts":213},{"angle":31.94,"counts":276},{"angle":32.0,"counts":253},{"angle":32.06,"counts":308},{"angle":32.12,"counts":198},{"angle":32.18,"counts":283},{"angle":32.24,"counts":246},{"angle":32.3,"counts":291},{"angle":32.36,"counts":262},{"angle":32.42,"counts":352},{"angle":32.48,"counts":408},{"angle":32.54,"counts":355},{"angle":32.6,"counts":335},{"angle":32.66,"counts":222},{"angle":32.72,"counts":273},{"angle":32.78,"counts":235},{"angle":32.84,"counts":307},{"angle":32.9,"counts":215},{"angle":32.96,"counts":255},{"angle":33.02,"counts":185},{"angle":33.08,"counts":260},{"angle":33.14,"counts":252},{"angle":33.2,"counts":212},{"angle":33.26,"counts":275},{"angle":33.32,"counts":232},{"angle":33.38,"counts":284},{"angle":33.44,"counts":200},{"angle":33.5,"counts":240},{"angle":33.56,"counts":257},{"angle":33.62,"counts":183},{"angle":33.68,"counts":265},{"angle":33.74,"counts":220},{"angle":33.8,"counts":293},{"angle":33.86,"counts":202},{"angle":33.92,"counts":243},{"angle":33.98,"counts":205},{"angle":34.04,"counts":255},{"angle":34.1,"counts":170},{"angle":34.16,"counts":233},{"angle":34.22,"counts":210},{"angle":34.28,"counts":265},{"angle":34.34,"counts":155},{"angle":34.4,"counts":240},{"angle":34.46,"counts":203},{"angle":34.52,"counts":248},{"angle":34.58,"counts":177},{"angle":34.64,"counts":217},{"angle":34.7,"counts":261},{"angle":34.76,"counts":190},{"angle":34.82,"counts":230},{"angle":34.88,"counts":192},{"angle":34.94,"counts":308},{"angle":35.0,"counts":450},{"angle":35.03,"counts":703},{"angle":35.06,"counts":741},{"angle":35.09,"counts":790},{"angle":35.12,"counts":827},{"angle":35.15,"counts":738},{"angle":35.18,"counts":600},{"angle":35.21,"counts":514},{"angle":35.24,"counts":359},{"angle":35.3,"counts":260},{"angle":35.36,"counts":252},{"angle":35.42,"counts":212},{"angle":35.48,"counts":275},{"angle":35.54,"counts":232},{"angle":35.6,"counts":340},{"angle":35.66,"counts":405},{"angle":35.72,"counts":345},{"angle":35.78,"counts":262},{"angle":35.84,"counts":143},{"angle":35.9,"counts":225},{"angle":35.96,"counts":180},{"angle":36.02,"counts":253},{"angle":36.08,"counts":162},{"angle":36.14,"counts":203},{"angle":36.2,"counts":210},{"angle":36.26,"counts":340},{"angle":36.32,"counts":365},{"angle":36.38,"counts":338},{"angle":36.44,"counts":235},{"angle":36.5,"counts":235},{"angle":36.56,"counts":125},{"angle":36.62,"counts":210},{"angle":36.68,"counts":173},{"angle":36.74,"counts":218},{"angle":36.8,"counts":147},{"angle":36.86,"counts":187},{"angle":36.92,"counts":231},{"angle":36.98,"counts":155},{"angle":37.04,"counts":195},{"angle":37.1,"counts":132},{"angle":37.16,"counts":208},{"angle":37.22,"counts":170},{"angle":37.28,"counts":242},{"angle":37.34,"counts":150},{"angle":37.4,"counts":190},{"angle":37.46,"counts":122},{"angle":37.52,"counts":197},{"angle":37.58,"counts":189},{"angle":37.64,"counts":149},{"angle":37.7,"counts":212},{"angle":37.76,"counts":169},{"angle":37.82,"counts":221},{"angle":37.88,"counts":137},{"angle":37.94,"counts":175},{"angle":38.0,"counts":192},{"angle":38.06,"counts":118},{"angle":38.12,"counts":200},{"angle":38.18,"counts":155},{"angle":38.24,"counts":228},{"angle":38.3,"counts":137},{"angle":38.36,"counts":178},{"angle":38.42,"counts":146},{"angle":38.48,"counts":206},{"angle":38.54,"counts":121},{"angle":38.6,"counts":184},{"angle":38.66,"counts":161},{"angle":38.72,"counts":216},{"angle":38.78,"counts":106},{"angle":38.84,"counts":191},{"angle":38.9,"counts":148},{"angle":38.96,"counts":193},{"angle":39.02,"counts":122},{"angle":39.08,"counts":162},{"angle":39.14,"counts":206},{"angle":39.2,"counts":135},{"angle":39.26,"counts":175},{"angle":39.32,"counts":112},{"angle":39.38,"counts":178},{"angle":39.44,"counts":140},{"angle":39.5,"counts":212},{"angle":39.56,"counts":120},{"angle":39.62,"counts":160},{"angle":39.68,"counts":95},{"angle":39.74,"counts":170},{"angle":39.8,"counts":152},{"angle":39.86,"counts":112},{"angle":39.92,"counts":175},{"angle":39.98,"counts":132},{"angle":40.04,"counts":184},{"angle":40.1,"counts":100},{"angle":40.16,"counts":145},{"angle":40.22,"counts":162},{"angle":40.28,"counts":88},{"angle":40.34,"counts":170},{"angle":40.4,"counts":128},{"angle":40.46,"counts":201},{"angle":40.52,"counts":110},{"angle":40.58,"counts":151},{"angle":40.64,"counts":123},{"angle":40.7,"counts":183},{"angle":40.76,"counts":98},{"angle":40.82,"counts":168},{"angle":40.88,"counts":145},{"angle":40.94,"counts":215},{"angle":41.0,"counts":130},{"angle":41.06,"counts":255},{"angle":41.12,"counts":268},{"angle":41.18,"counts":302},{"angle":41.24,"counts":212},{"angle":41.3,"counts":202},{"angle":41.36,"counts":150},{"angle":41.42,"counts":145},{"angle":41.48,"counts":190},{"angle":41.54,"counts":192},{"angle":41.6,"counts":280},{"angle":41.66,"counts":290},{"angle":41.72,"counts":340},{"angle":41.78,"counts":330},{"angle":41.84,"counts":420},{"angle":41.9,"counts":400},{"angle":41.96,"counts":345},{"angle":42.02,"counts":425},{"angle":42.08,"counts":448},{"angle":42.14,"counts":410},{"angle":42.2,"counts":292},{"angle":42.26,"counts":200},{"angle":42.32,"counts":90},{"angle":42.38,"counts":133},{"angle":42.44,"counts":150},{"angle":42.5,"counts":74},{"angle":42.56,"counts":156},{"angle":42.62,"counts":105},{"angle":42.68,"counts":178},{"angle":42.74,"counts":87},{"angle":42.8,"counts":128},{"angle":42.86,"counts":100},{"angle":42.92,"counts":152},{"angle":42.98,"counts":67},{"angle":43.04,"counts":130},{"angle":43.1,"counts":107},{"angle":43.16,"counts":158},{"angle":43.22,"counts":48},{"angle":43.28,"counts":133},{"angle":43.34,"counts":96},{"angle":43.4,"counts":141},{"angle":43.46,"counts":70},{"angle":43.52,"counts":110},{"angle":43.58,"counts":154},{"angle":43.64,"counts":79},{"angle":43.7,"counts":119},{"angle":43.76,"counts":56},{"angle":43.82,"counts":132},{"angle":43.88,"counts":94},{"angle":43.94,"counts":166},{"angle":44.0,"counts":74},{"angle":44.06,"counts":114},{"angle":44.12,"counts":45},{"angle":44.18,"counts":120},{"angle":44.24,"counts":112},{"angle":44.3,"counts":72},{"angle":44.36,"counts":135},{"angle":44.42,"counts":92},{"angle":44.48,"counts":144},{"angle":44.54,"counts":60},{"angle":44.6,"counts":102},{"angle":44.66,"counts":119},{"angle":44.72,"counts":45},{"angle":44.78,"counts":127},{"angle":44.84,"counts":82},{"angle":44.9,"counts":155},{"angle":44.96,"counts":64},{"angle":45.02,"counts":103},{"angle":45.08,"counts":75},{"angle":45.14,"counts":135},{"angle":45.2,"counts":50},{"angle":45.26,"counts":113},{"angle":45.32,"counts":90},{"angle":45.38,"counts":145},{"angle":45.44,"counts":35},{"angle":45.5,"counts":118},{"angle":45.56,"counts":81},{"angle":45.62,"counts":126},{"angle":45.68,"counts":55},{"angle":45.74,"counts":95},{"angle":45.8,"counts":139},{"angle":45.86,"counts":68},{"angle":45.92,"counts":105},{"angle":45.98,"counts":42},{"angle":46.04,"counts":128},{"angle":46.1,"counts":130},{"angle":46.16,"counts":227},{"angle":46.22,"counts":205},{"angle":46.28,"counts":152},{"angle":46.34,"counts":57},{"angle":46.4,"counts":113},{"angle":46.46,"counts":70},{"angle":46.52,"counts":122},{"angle":46.58,"counts":38},{"angle":46.64,"counts":83},{"angle":46.7,"counts":100},{"angle":46.76,"counts":26},{"angle":46.82,"counts":108},{"angle":46.88,"counts":60},{"angle":46.94,"counts":133},{"angle":47.0,"counts":42},{"angle":47.06,"counts":83},{"angle":47.12,"counts":55},{"angle":47.18,"counts":115},{"angle":47.24,"counts":30},{"angle":47.3,"counts":93},{"angle":47.36,"counts":70},{"angle":47.42,"counts":125},{"angle":47.48,"counts":28},{"angle":47.54,"counts":100},{"angle":47.6,"counts":63},{"angle":47.66,"counts":108},{"angle":47.72,"counts":37},{"angle":47.78,"counts":77},{"angle":47.84,"counts":121},{"angle":47.9,"counts":55},{"angle":47.96,"counts":105},{"angle":48.02,"counts":57},{"angle":48.08,"counts":148},{"angle":48.14,"counts":118},{"angle":48.2,"counts":165},{"angle":48.26,"counts":105},{"angle":48.32,"counts":148},{"angle":48.38,"counts":85},{"angle":48.44,"counts":158},{"angle":48.5,"counts":142},{"angle":48.56,"counts":94},{"angle":48.62,"counts":147},{"angle":48.68,"counts":92},{"angle":48.74,"counts":129},{"angle":48.8,"counts":32},{"angle":48.86,"counts":77},{"angle":48.92,"counts":94},{"angle":48.98,"counts":25},{"angle":49.04,"counts":102},{"angle":49.1,"counts":43},{"angle":49.16,"counts":116},{"angle":49.22,"counts":28},{"angle":49.28,"counts":66},{"angle":49.34,"counts":45},{"angle":49.4,"counts":105},{"angle":49.46,"counts":30},{"angle":49.52,"counts":88},{"angle":49.58,"counts":65},{"angle":49.64,"counts":135},{"angle":49.7,"counts":45},{"angle":49.76,"counts":130},{"angle":49.82,"counts":100},{"angle":49.88,"counts":151},{"angle":49.94,"counts":84},{"angle":50.0,"counts":127},
      {"angle":19.85,"counts":288},{"angle":19.91,"counts":363},{"angle":19.97,"counts":308},{"angle":20.03,"counts":343},{"angle":20.09,"counts":268},{"angle":20.15,"counts":333},{"angle":20.21,"counts":373},{"angle":20.27,"counts":298},{"angle":20.33,"counts":323},{"angle":20.39,"counts":278},{"angle":20.45,"counts":353},{"angle":20.51,"counts":313},{"angle":20.57,"counts":378},{"angle":20.63,"counts":283},{"angle":20.69,"counts":338},{"angle":20.75,"counts":303},{"angle":20.81,"counts":358},{"angle":20.87,"counts":263},{"angle":20.93,"counts":328},{"angle":20.99,"counts":348},{"angle":21.05,"counts":287},{"angle":21.11,"counts":362},{"angle":21.17,"counts":267},{"angle":21.23,"counts":312},{"angle":21.29,"counts":337},{"angle":21.35,"counts":252},{"angle":21.41,"counts":327},{"angle":21.47,"counts":302},{"angle":21.53,"counts":347},{"angle":21.59,"counts":282},{"angle":21.65,"counts":357},{"angle":21.71,"counts":302},{"angle":21.77,"counts":337},{"angle":21.83,"counts":262},{"angle":21.89,"counts":327},{"angle":21.95,"counts":367},{"angle":22.01,"counts":292},{"angle":22.07,"counts":317},{"angle":22.13,"counts":272},{"angle":22.19,"counts":347},{"angle":22.25,"counts":307},{"angle":22.31,"counts":372},{"angle":22.37,"counts":277},{"angle":22.43,"counts":332},{"angle":22.49,"counts":297},{"angle":22.55,"counts":345},{"angle":22.61,"counts":250},{"angle":22.67,"counts":315},{"angle":22.73,"counts":335},{"angle":22.79,"counts":280},{"angle":22.85,"counts":355},{"angle":22.91,"counts":260},{"angle":22.97,"counts":305},{"angle":23.03,"counts":330},{"angle":23.09,"counts":245},{"angle":23.15,"counts":320},{"angle":23.21,"counts":295},{"angle":23.27,"counts":340},{"angle":23.33,"counts":275},{"angle":23.39,"counts":350},{"angle":23.45,"counts":295},{"angle":23.51,"counts":330},{"angle":23.57,"counts":255},{"angle":23.63,"counts":320},{"angle":23.69,"counts":360},{"angle":23.75,"counts":285},{"angle":23.81,"counts":310},{"angle":23.87,"counts":265},{"angle":23.93,"counts":340},{"angle":23.99,"counts":300},{"angle":24.05,"counts":365},{"angle":24.11,"counts":270},{"angle":24.17,"counts":325},{"angle":24.23,"counts":295},{"angle":24.29,"counts":350},{"angle":24.35,"counts":255},{"angle":24.41,"counts":320},{"angle":24.47,"counts":340},{"angle":24.53,"counts":285},{"angle":24.59,"counts":360},{"angle":24.65,"counts":265},{"angle":24.71,"counts":310},{"angle":24.77,"counts":335},{"angle":24.83,"counts":250},{"angle":24.89,"counts":325},{"angle":24.95,"counts":300},{"angle":25.01,"counts":365},{"angle":25.07,"counts":300},{"angle":25.13,"counts":375},{"angle":25.19,"counts":320},{"angle":25.25,"counts":355},{"angle":25.31,"counts":310},{"angle":25.37,"counts":375},{"angle":25.43,"counts":415},{"angle":25.49,"counts":390},{"angle":25.55,"counts":425},{"angle":25.61,"counts":420},{"angle":25.67,"counts":458},{"angle":25.73,"counts":455},{"angle":25.79,"counts":462},{"angle":25.85,"counts":378},{"angle":25.91,"counts":370},{"angle":25.97,"counts":305},{"angle":26.03,"counts":340},{"angle":26.09,"counts":245},{"angle":26.15,"counts":310},{"angle":26.21,"counts":330},{"angle":26.27,"counts":275},{"angle":26.33,"counts":350},{"angle":26.39,"counts":255},{"angle":26.45,"counts":300},{"angle":26.51,"counts":325},{"angle":26.57,"counts":240},{"angle":26.63,"counts":315},{"angle":26.69,"counts":290},{"angle":26.75,"counts":335},{"angle":26.81,"counts":270},{"angle":26.87,"counts":345},{"angle":26.93,"counts":290},{"angle":26.99,"counts":325},{"angle":27.05,"counts":245},{"angle":27.11,"counts":310},{"angle":27.17,"counts":350},{"angle":27.23,"counts":275},{"angle":27.29,"counts":300},{"angle":27.35,"counts":255},{"angle":27.41,"counts":330},{"angle":27.47,"counts":290},{"angle":27.53,"counts":355},{"angle":27.59,"counts":260},{"angle":27.65,"counts":315},{"angle":27.71,"counts":280},{"angle":27.77,"counts":335},{"angle":27.83,"counts":240},{"angle":27.89,"counts":305},{"angle":27.95,"counts":325},{"angle":28.01,"counts":265},{"angle":28.07,"counts":340},{"angle":28.13,"counts":245},{"angle":28.19,"counts":290},{"angle":28.25,"counts":315},{"angle":28.31,"counts":230},{"angle":28.37,"counts":305},{"angle":28.43,"counts":280},{"angle":28.49,"counts":325},{"angle":28.55,"counts":270},{"angle":28.61,"counts":342},{"angle":28.67,"counts":325},{"angle":28.73,"counts":335},{"angle":28.79,"counts":230},{"angle":28.85,"counts":295},{"angle":28.91,"counts":335},{"angle":28.97,"counts":260},{"angle":29.03,"counts":285},{"angle":29.09,"counts":240},{"angle":29.15,"counts":315},{"angle":29.21,"counts":275},{"angle":29.27,"counts":340},{"angle":29.33,"counts":245},{"angle":29.39,"counts":300},{"angle":29.45,"counts":265},{"angle":29.51,"counts":313},{"angle":29.57,"counts":218},{"angle":29.63,"counts":283},{"angle":29.69,"counts":303},{"angle":29.75,"counts":248},{"angle":29.81,"counts":323},{"angle":29.87,"counts":228},{"angle":29.93,"counts":273},{"angle":29.99,"counts":298},{"angle":30.05,"counts":213},{"angle":30.11,"counts":288},{"angle":30.17,"counts":263},{"angle":30.23,"counts":308},{"angle":30.29,"counts":243},{"angle":30.35,"counts":318},{"angle":30.41,"counts":263},{"angle":30.47,"counts":298},{"angle":30.53,"counts":217},{"angle":30.59,"counts":282},{"angle":30.65,"counts":322},{"angle":30.71,"counts":247},{"angle":30.77,"counts":272},{"angle":30.83,"counts":227},{"angle":30.89,"counts":302},{"angle":30.95,"counts":262},{"angle":31.01,"counts":327},{"angle":31.07,"counts":232},{"angle":31.13,"counts":290},{"angle":31.19,"counts":275},{"angle":31.25,"counts":360},{"angle":31.31,"counts":341},{"angle":31.37,"counts":330},{"angle":31.43,"counts":300},{"angle":31.49,"counts":233},{"angle":31.55,"counts":308},{"angle":31.61,"counts":213},{"angle":31.67,"counts":258},{"angle":31.73,"counts":283},{"angle":31.79,"counts":198},{"angle":31.85,"counts":273},{"angle":31.91,"counts":248},{"angle":31.97,"counts":293},{"angle":32.03,"counts":228},{"angle":32.09,"counts":303},{"angle":32.15,"counts":248},{"angle":32.21,"counts":283},{"angle":32.27,"counts":208},{"angle":32.33,"counts":295},{"angle":32.39,"counts":357},{"angle":32.45,"counts":370},{"angle":32.51,"counts":400},{"angle":32.57,"counts":330},{"angle":32.63,"counts":335},{"angle":32.69,"counts":250},{"angle":32.75,"counts":300},{"angle":32.81,"counts":205},{"angle":32.87,"counts":260},{"angle":32.93,"counts":225},{"angle":32.99,"counts":280},{"angle":33.05,"counts":185},{"angle":33.11,"counts":250},{"angle":33.17,"counts":270},{"angle":33.23,"counts":215},{"angle":33.29,"counts":290},{"angle":33.35,"counts":195},{"angle":33.41,"counts":240},{"angle":33.47,"counts":265},{"angle":33.53,"counts":170},{"angle":33.59,"counts":245},{"angle":33.65,"counts":220},{"angle":33.71,"counts":265},{"angle":33.77,"counts":200},{"angle":33.83,"counts":275},{"angle":33.89,"counts":220},{"angle":33.95,"counts":255},{"angle":34.01,"counts":165},{"angle":34.07,"counts":230},{"angle":34.13,"counts":270},{"angle":34.19,"counts":195},{"angle":34.25,"counts":220},{"angle":34.31,"counts":175},{"angle":34.37,"counts":250},{"angle":34.43,"counts":210},{"angle":34.49,"counts":275},{"angle":34.55,"counts":180},{"angle":34.61,"counts":235},{"angle":34.67,"counts":200},{"angle":34.73,"counts":255},{"angle":34.79,"counts":160},{"angle":34.85,"counts":225},{"angle":34.91,"counts":280},{"angle":34.97,"counts":345},{"angle":35.27,"counts":290},{"angle":35.33,"counts":255},{"angle":35.39,"counts":230},{"angle":35.45,"counts":275},{"angle":35.51,"counts":210},{"angle":35.57,"counts":312},{"angle":35.63,"counts":360},{"angle":35.69,"counts":402},{"angle":35.75,"counts":275},{"angle":35.81,"counts":225},{"angle":35.87,"counts":250},{"angle":35.93,"counts":175},{"angle":35.99,"counts":200},{"angle":36.05,"counts":155},{"angle":36.11,"counts":230},{"angle":36.17,"counts":190},{"angle":36.23,"counts":310},{"angle":36.29,"counts":333},{"angle":36.35,"counts":370},{"angle":36.41,"counts":265},{"angle":36.47,"counts":250},{"angle":36.53,"counts":130},{"angle":36.59,"counts":194},{"angle":36.65,"counts":212},{"angle":36.71,"counts":156},{"angle":36.77,"counts":230},{"angle":36.83,"counts":134},{"angle":36.89,"counts":179},{"angle":36.95,"counts":203},{"angle":37.01,"counts":117},{"angle":37.07,"counts":191},{"angle":37.13,"counts":166},{"angle":37.19,"counts":210},{"angle":37.25,"counts":144},{"angle":37.31,"counts":218},{"angle":37.37,"counts":162},{"angle":37.43,"counts":196},{"angle":37.49,"counts":119},{"angle":37.55,"counts":183},{"angle":37.61,"counts":222},{"angle":37.67,"counts":146},{"angle":37.73,"counts":170},{"angle":37.79,"counts":124},{"angle":37.85,"counts":198},{"angle":37.91,"counts":158},{"angle":37.97,"counts":222},{"angle":38.03,"counts":126},{"angle":38.09,"counts":181},{"angle":38.15,"counts":145},{"angle":38.21,"counts":199},{"angle":38.27,"counts":104},{"angle":38.33,"counts":168},{"angle":38.39,"counts":187},{"angle":38.45,"counts":129},{"angle":38.51,"counts":204},{"angle":38.57,"counts":108},{"angle":38.63,"counts":152},{"angle":38.69,"counts":176},{"angle":38.75,"counts":90},{"angle":38.81,"counts":165},{"angle":38.87,"counts":140},{"angle":38.93,"counts":183},{"angle":38.99,"counts":117},{"angle":39.05,"counts":191},{"angle":39.11,"counts":135},{"angle":39.17,"counts":169},{"angle":39.23,"counts":93},{"angle":39.29,"counts":157},{"angle":39.35,"counts":196},{"angle":39.41,"counts":120},{"angle":39.47,"counts":145},{"angle":39.53,"counts":100},{"angle":39.59,"counts":174},{"angle":39.65,"counts":133},{"angle":39.71,"counts":197},{"angle":39.77,"counts":101},{"angle":39.83,"counts":153},{"angle":39.89,"counts":118},{"angle":39.95,"counts":172},{"angle":40.01,"counts":85},{"angle":40.07,"counts":150},{"angle":40.13,"counts":170},{"angle":40.19,"counts":115},{"angle":40.25,"counts":190},{"angle":40.31,"counts":95},{"angle":40.37,"counts":142},{"angle":40.43,"counts":167},{"angle":40.49,"counts":82},{"angle":40.55,"counts":160},{"angle":40.61,"counts":136},{"angle":40.67,"counts":181},{"angle":40.73,"counts":117},{"angle":40.79,"counts":193},{"angle":40.85,"counts":138},{"angle":40.91,"counts":173},{"angle":40.97,"counts":135},{"angle":41.03,"counts":225},{"angle":41.09,"counts":292},{"angle":41.15,"counts":285},{"angle":41.21,"counts":285},{"angle":41.27,"counts":200},{"angle":41.33,"counts":210},{"angle":41.39,"counts":145},{"angle":41.45,"counts":200},{"angle":41.51,"counts":165},{"angle":41.57,"counts":260},{"angle":41.63,"counts":270},{"angle":41.69,"counts":320},{"angle":41.75,"counts":293},{"angle":41.81,"counts":390},{"angle":41.87,"counts":425},{"angle":41.93,"counts":373},{"angle":41.99,"counts":415},{"angle":42.05,"counts":413},{"angle":42.11,"counts":440},{"angle":42.17,"counts":382},{"angle":42.23,"counts":210},{"angle":42.29,"counts":165},{"angle":42.35,"counts":114},{"angle":42.41,"counts":159},{"angle":42.47,"counts":94},{"angle":42.53,"counts":169},{"angle":42.59,"counts":114},{"angle":42.65,"counts":143},{"angle":42.71,"counts":68},{"angle":42.77,"counts":133},{"angle":42.83,"counts":173},{"angle":42.89,"counts":92},{"angle":42.95,"counts":117},{"angle":43.01,"counts":65},{"angle":43.07,"counts":140},{"angle":43.13,"counts":100},{"angle":43.19,"counts":165},{"angle":43.25,"counts":70},{"angle":43.31,"counts":125},{"angle":43.37,"counts":90},{"angle":43.43,"counts":145},{"angle":43.49,"counts":50},{"angle":43.55,"counts":112},{"angle":43.61,"counts":132},{"angle":43.67,"counts":77},{"angle":43.73,"counts":152},{"angle":43.79,"counts":57},{"angle":43.85,"counts":102},{"angle":43.91,"counts":127},{"angle":43.97,"counts":42},{"angle":44.03,"counts":114},{"angle":44.09,"counts":89},{"angle":44.15,"counts":134},{"angle":44.21,"counts":69},{"angle":44.27,"counts":144},{"angle":44.33,"counts":89},{"angle":44.39,"counts":124},{"angle":44.45,"counts":49},{"angle":44.51,"counts":112},{"angle":44.57,"counts":152},{"angle":44.63,"counts":77},{"angle":44.69,"counts":102},{"angle":44.75,"counts":57},{"angle":44.81,"counts":132},{"angle":44.87,"counts":92},{"angle":44.93,"counts":157},{"angle":44.99,"counts":60},{"angle":45.05,"counts":115},{"angle":45.11,"counts":80},{"angle":45.17,"counts":135},{"angle":45.23,"counts":40},{"angle":45.29,"counts":105},{"angle":45.35,"counts":125},{"angle":45.41,"counts":70},{"angle":45.47,"counts":143},{"angle":45.53,"counts":48},{"angle":45.59,"counts":93},{"angle":45.65,"counts":118},{"angle":45.71,"counts":33},{"angle":45.77,"counts":108},{"angle":45.83,"counts":83},{"angle":45.89,"counts":125},{"angle":45.95,"counts":60},{"angle":46.01,"counts":117},{"angle":46.07,"counts":105},{"angle":46.13,"counts":215},{"angle":46.19,"counts":200},{"angle":46.25,"counts":190},{"angle":46.31,"counts":127},{"angle":46.37,"counts":55},{"angle":46.43,"counts":80},{"angle":46.49,"counts":35},{"angle":46.55,"counts":110},{"angle":46.61,"counts":70},{"angle":46.67,"counts":135},{"angle":46.73,"counts":40},{"angle":46.79,"counts":95},{"angle":46.85,"counts":60},{"angle":46.91,"counts":115},{"angle":46.97,"counts":30},{"angle":47.03,"counts":85},{"angle":47.09,"counts":105},{"angle":47.15,"counts":50},{"angle":47.21,"counts":125},{"angle":47.27,"counts":30},{"angle":47.33,"counts":75},{"angle":47.39,"counts":100},{"angle":47.45,"counts":30},{"angle":47.51,"counts":90},{"angle":47.57,"counts":65},{"angle":47.63,"counts":110},{"angle":47.69,"counts":45},{"angle":47.75,"counts":120},{"angle":47.81,"counts":65},{"angle":47.87,"counts":100},{"angle":47.93,"counts":30},{"angle":47.99,"counts":110},{"angle":48.05,"counts":142},{"angle":48.11,"counts":105},{"angle":48.17,"counts":137},{"angle":48.23,"counts":95},{"angle":48.29,"counts":155},{"angle":48.35,"counts":135},{"angle":48.41,"counts":170},{"angle":48.47,"counts":100},{"angle":48.53,"counts":145},{"angle":48.59,"counts":103},{"angle":48.65,"counts":145},{"angle":48.71,"counts":40},{"angle":48.77,"counts":78},{"angle":48.83,"counts":98},{"angle":48.89,"counts":43},{"angle":48.95,"counts":118},{"angle":49.01,"counts":30},{"angle":49.07,"counts":68},{"angle":49.13,"counts":80},{"angle":49.19,"counts":30},{"angle":49.25,"counts":70},{"angle":49.31,"counts":58},{"angle":49.37,"counts":103},{"angle":49.43,"counts":38},{"angle":49.49,"counts":113},{"angle":49.55,"counts":58},{"angle":49.61,"counts":105},{"angle":49.67,"counts":42},{"angle":49.73,"counts":117},{"angle":49.79,"counts":150},{"angle":49.85,"counts":95},{"angle":49.91,"counts":125},{"angle":49.97,"counts":84}
    ],
    "panels": [
      {"angle":20.71,"counts":1948,"panel":"a"},
      {"angle":20.73,"counts":937,"panel":"b"}
    ]
  },
  "encoding": {
    "x": {
      "field": "angle",
      "type": "quantitative",
      "scale": {"domain": [19.8, 50], "nice": false, "zero": false},
      "axis": {
        "values": [20, 25, 30, 35, 40, 45, 50],
        "format": "d",
        "domain": false,
        "ticks": false,
        "grid": false,
        "labelFlush": false,
        "labelFont": "Liberation Serif",
        "labelFontWeight": "bold",
        "labelFontSize": 64,
        "labelColor": "#000000",
        "labelPadding": 26,
        "title": "2Theta(°)",
        "titleFont": "Liberation Serif",
        "titleFontWeight": "bold",
        "titleFontSize": 62,
        "titleColor": "#000000",
        "titleX": 988,
        "titleY": 145,
        "titleBaseline": "alphabetic",
        "titleAlign": "center"
      }
    },
    "y": {
      "field": "counts",
      "type": "quantitative",
      "scale": {"domain": [0, 2070], "nice": false, "zero": false},
      "axis": {
        "domain": false,
        "ticks": false,
        "labels": false,
        "grid": false,
        "title": "Intensity (A.U)",
        "titleFont": "Liberation Serif",
        "titleFontWeight": "bold",
        "titleFontSize": 63,
        "titleColor": "#000000",
        "titleAngle": 270,
        "titleX": -65,
        "titleY": 917,
        "titleBaseline": "middle",
        "titleAlign": "center"
      }
    }
  },
  "layer": [
    {
      "data": {"name": "experimental"},
      "mark": {"type": "point", "filled": false, "size": 180, "stroke": "#404040", "strokeWidth": 2.5, "opacity": 0.95, "clip": true},
      "encoding": {
        "shape": {
          "datum": "Experimental",
          "type": "nominal",
          "scale": {"domain": ["Experimental"], "range": ["M-1,-1L1,1M1,-1L-1,1"]},
          "legend": {"title": null, "orient": "none", "legendX": 1453, "legendY": 60, "labelOffset": 34, "symbolSize": 676, "symbolStrokeWidth": 3, "symbolStrokeColor": "#222222"}
        }
      }
    },
    {
      "data": {"name": "calculated"},
      "mark": {"type": "line", "strokeWidth": 6.5, "clip": true},
      "encoding": {
        "stroke": {
          "datum": "Calculated",
          "type": "nominal",
          "scale": {"domain": ["Calculated"], "range": ["#e3201f"]},
          "legend": {"title": null, "orient": "none", "legendX": 1412, "legendY": 84, "labelOffset": 17, "symbolType": "stroke", "symbolSize": 8464, "symbolStrokeWidth": 4.5}
        }
      }
    },
    {
      "data": {"name": "background"},
      "mark": {"type": "line", "strokeWidth": 5, "interpolate": "monotone", "clip": true},
      "encoding": {
        "color": {
          "datum": "Background",
          "type": "nominal",
          "scale": {"domain": ["Background"], "range": ["#14aa48"]},
          "legend": {"title": null, "orient": "none", "legendX": 1412, "legendY": 138, "labelOffset": 17, "symbolType": "stroke", "symbolSize": 8464, "symbolStrokeWidth": 4.5}
        }
      }
    },
    {
      "data": {"name": "anorthite"},
      "mark": {"type": "point", "shape": "circle", "filled": true, "size": 220, "opacity": 1, "clip": true},
      "encoding": {
        "fill": {
          "datum": "Phase Anorthite",
          "type": "nominal",
          "scale": {"domain": ["Phase Anorthite", "Phase Diopside", "Phase Enstatite", "Phase Gehlenite"], "range": ["#16d8e2", "#7a7a7a", "#0c0c8a", "#f4c7cc"]},
          "legend": {"title": null, "orient": "none", "legendX": 1441, "legendY": 222.5, "labelOffset": 45, "rowPadding": 15.4}
        }
      }
    },
    {
      "data": {"name": "enstatite"},
      "mark": {"type": "point", "shape": "diamond", "filled": true, "opacity": 1, "clip": true},
      "encoding": {
        "fill": {"datum": "Phase Enstatite", "type": "nominal"},
        "size": {
          "datum": "Phase Enstatite",
          "type": "nominal",
          "scale": {"type": "ordinal", "domain": ["Phase Anorthite", "Phase Diopside", "Phase Enstatite", "Phase Gehlenite"], "range": [90, 22, 160, 36]},
          "legend": {"title": null, "orient": "none", "legendX": 1441, "legendY": 222.5, "labelOffset": 45, "rowPadding": 15.4}
        }
      }
    },
    {
      "data": {"name": "diopside"},
      "mark": {"type": "point", "shape": "circle", "filled": false, "size": 80, "stroke": "#1a1a1a", "strokeWidth": 2.4, "opacity": 1, "clip": true}
    },
    {
      "data": {"name": "pattern_b"},
      "mark": {"type": "line", "stroke": "#ff0000", "strokeWidth": 2.2, "clip": true}
    },
    {
      "data": {"name": "panels"},
      "mark": {"type": "text", "font": "Liberation Serif", "fontWeight": "bold", "fontSize": 64, "align": "center", "baseline": "alphabetic", "color": "#000000"},
      "encoding": {"text": {"field": "panel", "type": "nominal"}}
    }
  ]
}
